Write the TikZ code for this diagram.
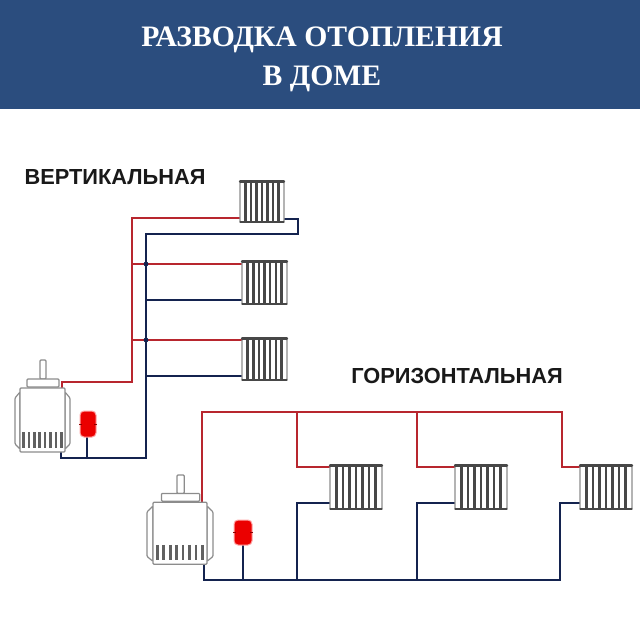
\documentclass[tikz,border=0pt]{standalone}
\usepackage{fontspec}
\setmainfont{Liberation Serif}
\newfontfamily\labelfont{Liberation Sans}
\definecolor{banner}{HTML}{2B4D7E}
\definecolor{hotpipe}{HTML}{B8262E}
\definecolor{coldpipe}{HTML}{14234F}
\definecolor{unitgray}{HTML}{8C8C8C}
\tikzset{
  hot/.style={hotpipe,line width=2.9pt},
  cold/.style={coldpipe,line width=2.9pt},
  unit/.style={unitgray,line width=1.2pt,fill=white,rounded corners=1pt},
  fin/.style={black!72,line width=2.5pt},
  rim/.style={black!72,line width=1.2pt,line cap=round},
  tank/.style={draw=red!35,fill=red!92!black,rounded corners=4pt,line width=1pt},
  heading/.style={font=\labelfont\bfseries\fontsize{21.8}{22}\selectfont,text=black!90},
}
\begin{document}
\begin{tikzpicture}[x=1pt,y=-1pt]
\useasboundingbox (0,0) rectangle (640,640);
\def\BANNERH{109}
\fill[banner] (0,0) rectangle (640,\BANNERH);
\node[text=white,align=center,font=\bfseries\fontsize{29.7}{39}\selectfont] (title) at (322,59.5) {РАЗВОДКА ОТОПЛЕНИЯ\\В ДОМЕ};
\node[heading] (vlabel) at (115,177) {ВЕРТИКАЛЬНАЯ};
\node[heading] (hlabel) at (457,376) {ГОРИЗОНТАЛЬНАЯ};

% vertical
\draw[hot] (62,388) -- (62,382) -- (132,382) -- (132,218) -- (240,218);
\draw[hot] (132,264) -- (242,264);
\draw[hot] (132,340) -- (242,340);
\draw[cold] (61,450) -- (61,458) -- (146,458) -- (146,234) -- (298,234) -- (298,219) -- (284,219);
\draw[cold] (146,300) -- (242,300);
\draw[cold] (146,376) -- (242,376);
\draw[cold] (87,436) -- (87,458);
\fill[coldpipe] (146,264) circle (2.4) (146,340) circle (2.4);

% horizontal
\draw[hot] (202,502) -- (202,412) -- (562,412) -- (562,467) -- (580,467);
\draw[hot] (297,412) -- (297,467) -- (330,467);
\draw[hot] (417,412) -- (417,467) -- (455,467);
\draw[cold] (204,564) -- (204,580) -- (560,580) -- (560,503) -- (580,503);
\draw[cold] (297,580) -- (297,503) -- (330,503);
\draw[cold] (417,580) -- (417,503) -- (455,503);
\draw[cold] (243,545) -- (243,580);

% radiators: x, y, width, height
\foreach \X/\Y/\W/\H in {240/180/44/43,242/260/45/45,242/337/45/44,330/464/52/46,455/464/52/46,580/464/52/46}{
  \draw[unit] (\X,\Y+2) rectangle ++(\W,\H-3);
  \foreach \i in {1,...,7}
    \draw[fin] (\X+\i*\W/8,\Y+1) -- ++(0,\H-2);
  \draw[black!72,line width=2.4pt,line cap=round] (\X,\Y+1.5) -- ++(\W,0);
  \draw[rim] (\X,\Y+\H-1) -- ++(\W,0);
}

% boilers: x, y, width scale, height scale
\foreach \X/\Y/\S/\T in {20/360/1/1,153/475/1.2/0.97}{
  \draw[unit] (\X,\Y+32*\T) -- (\X-5*\S,\Y+38*\T) -- (\X-5*\S,\Y+84*\T) -- (\X,\Y+89*\T) -- cycle;
  \draw[unit] (\X+45*\S,\Y+32*\T) -- (\X+50*\S,\Y+38*\T) -- (\X+50*\S,\Y+84*\T) -- (\X+45*\S,\Y+89*\T) -- cycle;
  \draw[unit] (\X+20*\S,\Y) rectangle ++(6*\S,19*\T);
  \draw[unit] (\X+7*\S,\Y+19*\T) rectangle ++(32*\S,8*\T);
  \draw[unit] (\X,\Y+28*\T) rectangle ++(45*\S,64*\T);
  \foreach \i in {0,...,7}
    \draw[fin,black!62,line width=2.7pt] (\X+3.5*\S+\i*5.4*\S,\Y+72*\T) -- ++(0,16*\T);
}

% tanks
\foreach \X/\Y/\W/\H in {80/411/16/26,234/520/18/25}{
  \filldraw[tank] (\X,\Y) rectangle ++(\W,\H);
  \draw[red!55!black,line width=0.6pt] (\X-1,\Y+\H/2) -- ++(3,0) (\X+\W+1,\Y+\H/2) -- ++(-3,0);
}
\end{tikzpicture}
\end{document}
